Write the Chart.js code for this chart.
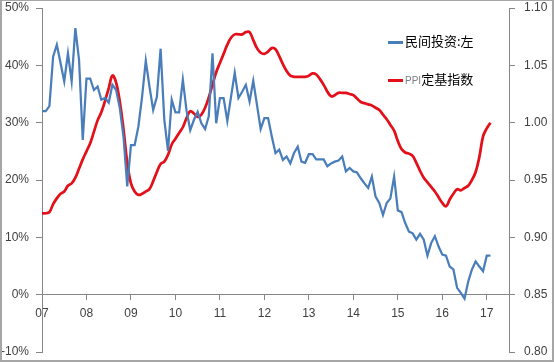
<!DOCTYPE html>
<html>
<head>
<meta charset="utf-8">
<script src="https://cdn.jsdelivr.net/npm/chart.js@4.4.1/dist/chart.umd.min.js"></script>
<style>
body { margin: 0; background: #fff; }
#wrap { position: relative; width: 554px; height: 362px; }
#frame { position: absolute; left: 0; top: 0; width: 554px; height: 362px; box-sizing: border-box;
  border: 2px solid #a6a6a6; border-top-width: 1px; pointer-events: none; }
.lg { position: absolute; left: 388px; font-family: "Noto Sans CJK SC", sans-serif; font-size: 13px; color: #000; white-space: nowrap; }
.lg i { display: inline-block; width: 15px; height: 2.5px; vertical-align: middle; margin-right: 2px; }
.lg span { font-family: "Liberation Sans", sans-serif; font-size: 10px; color: #7f7f7f; }
</style>
</head>
<body>
<div id="wrap">
  <canvas id="chart" width="554" height="362"></canvas>
  <div id="legend"></div>
  <div id="frame"></div>
</div>
<script>
// year tick labels, one per January
const yearLabels = ['07', '08', '09', '10', '11', '12', '13', '14', '15', '16', '17'];
const seriesNames = ['民间投资:左', 'PPI定基指数'];

// private investment, cumulative yoy %, monthly from 2007
const privateInvest = [
  32.0, 32.0, 32.9, 41.5, 43.6, 40.4, 37.2, 42.1, 37.2, 46.5, 40.9, 27.0,
  37.7, 37.7, 35.7, 36.3, 34.0, 34.3, 33.5, 36.6, 35.7, 32.5, 27.5, 18.9,
  26.1, 26.1, 29.3, 34.5, 40.8, 36.3, 32.2, 34.5, 42.9, 30.5, 25.1, 34.0,
  31.8, 31.8, 37.5, 32.1, 28.7, 30.5, 31.9, 29.9, 28.9, 31.1, 42.1, 29.9,
  34.3, 34.3, 30.3, 34.5, 38.7, 34.3, 35.4, 36.6, 33.7, 37.3, 33.1, 28.9,
  30.8, 30.8, 27.6, 24.7, 25.3, 23.5, 24.1, 22.9, 24.7, 25.8, 23.2, 23.0,
  24.5, 24.5, 23.6, 23.6, 23.6, 22.4, 22.9, 23.2, 23.4, 24.1, 21.5, 22.1,
  21.5, 21.3, 20.3, 19.4, 18.6, 20.6, 17.1, 16.0, 13.9, 16.0, 16.8, 20.6,
  14.7, 14.4, 12.5, 11.0, 10.7, 9.6, 10.6, 9.6, 6.8, 9.0, 10.2, 8.4,
  7.0, 6.8, 4.9, 4.4, 1.2, 0.3, -0.7, 2.3, 4.4, 5.8, 4.9, 4.1,
  6.8, 6.8
];

// PPI fixed-base index, right axis
const ppiIndex = [
  0.921, 0.921, 0.922, 0.929, 0.934, 0.938, 0.940, 0.945, 0.947, 0.952, 0.960, 0.968,
  0.975, 0.982, 0.992, 1.002, 1.009, 1.019, 1.030, 1.041, 1.035, 1.018, 0.994, 0.965,
  0.947, 0.940, 0.937, 0.938, 0.940, 0.942, 0.949, 0.957, 0.964, 0.966, 0.972, 0.981,
  0.986, 0.991, 0.996, 1.004, 1.010, 1.008, 1.005, 1.007, 1.013, 1.022, 1.033, 1.044,
  1.052, 1.060, 1.068, 1.074, 1.077, 1.077, 1.077, 1.079, 1.079, 1.072, 1.065, 1.061,
  1.060, 1.062, 1.065, 1.064, 1.058, 1.051, 1.045, 1.041, 1.040, 1.040, 1.040, 1.040,
  1.041, 1.043, 1.042, 1.038, 1.033, 1.027, 1.023, 1.024, 1.026, 1.026, 1.026, 1.025,
  1.024, 1.021, 1.018, 1.017, 1.016, 1.015, 1.013, 1.011, 1.007, 1.003, 0.998, 0.993,
  0.984, 0.977, 0.974, 0.973, 0.971, 0.965, 0.958, 0.952, 0.948, 0.944, 0.940, 0.935,
  0.930, 0.927, 0.933, 0.938, 0.942, 0.941, 0.943, 0.945, 0.950, 0.957, 0.970, 0.988,
  0.995, 1.000
];

const colors = ['#4a7ebb', '#e3101a'];

// monthly categories, the axis runs a few months past the last value
const months = [];
for (let i = 0; i < 127; i++) {
  months.push(yearLabels[0] + '-' + (i + 1));
}

const axisColor = '#868686';
const tickFont = { family: 'Liberation Sans', size: 12 };

// fixed axis box so the plot sits where the source has it
function fitY(width) {
  return s => {
    s.width = width;
    s.paddingTop = 0;
    s.paddingBottom = 0;
  };
}

const chart = new Chart(document.getElementById('chart'), {
  type: 'line',
  data: {
    labels: months,
    datasets: [
      {
        label: seriesNames[0],
        data: privateInvest,
        yAxisID: 'y',
        borderColor: colors[0],
        borderWidth: 2.25,
        pointRadius: 0,
        tension: 0
      },
      {
        label: seriesNames[1],
        data: ppiIndex,
        yAxisID: 'y1',
        borderColor: colors[1],
        borderWidth: 2.75,
        pointRadius: 0,
        tension: 0.4
      }
    ]
  },
  options: {
    responsive: false,
    animation: false,
    layout: { padding: { top: 8, bottom: 10, left: 0, right: 0 } },
    plugins: {
      legend: { display: false },
      tooltip: { enabled: false }
    },
    scales: {
      x: {
        type: 'category',
        offset: false,
        position: { y: 0 },
        border: { color: axisColor, width: 1 },
        grid: {
          drawOnChartArea: false,
          tickLength: 5,
          color: ctx => (ctx.index % 12 === 0 ? axisColor : 'rgba(0,0,0,0)')
        },
        ticks: {
          autoSkip: false,
          maxRotation: 0,
          padding: 7,
          color: '#404040',
          font: tickFont,
          callback: (v, i) => (i % 12 === 0 ? yearLabels[i / 12] : '')
        },
        afterFit: s => {
          s.height = 0;
          s.paddingLeft = 0;
          s.paddingRight = 0;
        }
      },
      y: {
        position: 'left',
        min: -10,
        max: 50,
        border: { color: axisColor, width: 1 },
        grid: { drawOnChartArea: false, tickLength: 6, color: axisColor },
        ticks: {
          stepSize: 10,
          padding: 7,
          color: '#404040',
          font: tickFont,
          callback: v => v + '%'
        },
        afterFit: fitY(42)
      },
      y1: {
        position: 'right',
        min: 0.8,
        max: 1.1,
        border: { color: axisColor, width: 1 },
        grid: { drawOnChartArea: false, tickLength: 6, color: axisColor },
        ticks: {
          stepSize: 0.05,
          padding: 9,
          color: '#404040',
          font: tickFont,
          callback: v => v.toFixed(2)
        },
        afterFit: fitY(45)
      }
    }
  }
});

// legend drawn as html inside the plot, like the source
const legendBox = document.getElementById('legend');
chart.data.datasets.forEach((ds, i) => {
  const item = document.createElement('div');
  item.className = 'lg';
  item.style.top = (31 + i * 38) + 'px';
  const name = ds.label.replace(/^([A-Za-z]+)/, '<span>$1</span>');
  item.innerHTML = '<i style="background:' + ds.borderColor + '"></i>' + name;
  legendBox.appendChild(item);
});
</script>
</body>
</html>
